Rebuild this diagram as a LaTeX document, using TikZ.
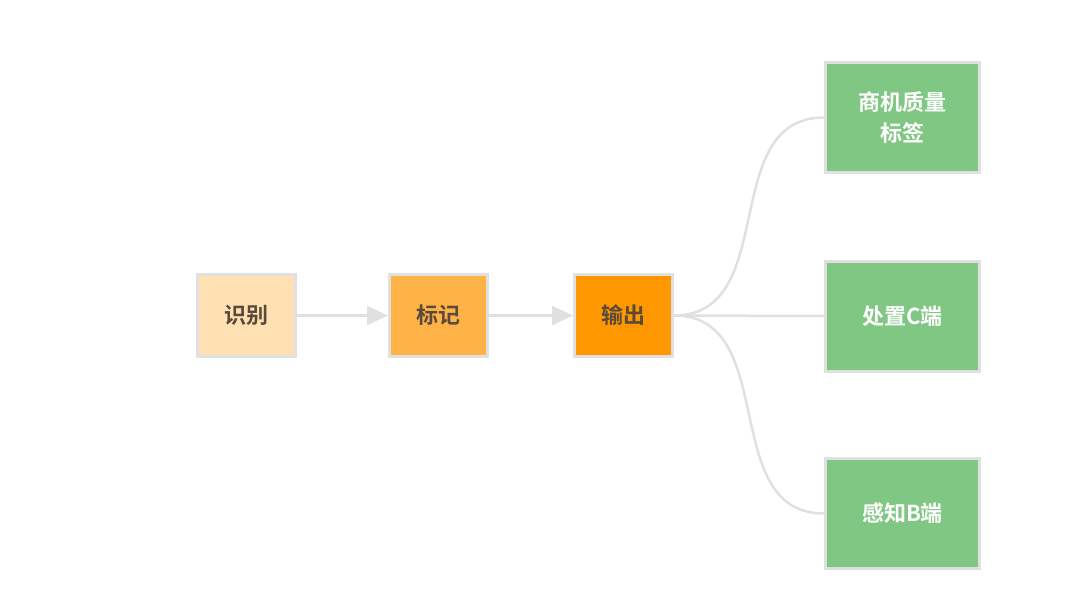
\documentclass[tikz,border=0pt]{standalone}
\usepackage{fontspec}
\setmainfont{Noto Sans CJK SC}[BoldFont={Noto Sans CJK SC Bold}]
\usepackage{tikz}
\usetikzlibrary{arrows.meta}

\definecolor{edgegray}{HTML}{E0E0E0}
\definecolor{textgray}{HTML}{5A4A3A}
\definecolor{peach}{HTML}{FFE0B2}
\definecolor{lightorange}{HTML}{FFB347}
\definecolor{deeporange}{HTML}{FF9800}
\definecolor{leafgreen}{HTML}{81C784}

\tikzset{
    stepbox/.style={draw=edgegray, line width=3pt, rectangle, minimum width=98pt, minimum height=82pt, inner sep=0pt, text=textgray, font=\fontsize{22}{26}\selectfont\bfseries},
    leafbox/.style={draw=edgegray, line width=3pt, rectangle, minimum width=154pt, minimum height=110pt, inner sep=0pt, fill=leafgreen, text=white, align=center, font=\fontsize{22}{31}\selectfont\bfseries},
    link/.style={draw=edgegray, line width=2.5pt},
}

\begin{document}
\begin{tikzpicture}[x=1pt, y=-1pt]
    \useasboundingbox (0, 0) rectangle (1080, 591);

    \node[stepbox, fill=peach] at (246.5, 315.5) (find) {识别};
    \node[stepbox, fill=lightorange] at (438.5, 315.5) (mark) {标记};
    \node[stepbox, fill=deeporange] at (623.5, 315.5) (out) {输出};

    \node[leafbox] at (902.5, 117.5) (quality) {商机质量\\标签};
    \node[leafbox] at (902.5, 316) (cside) {处置C端};
    \node[leafbox] at (902.5, 513.5) (bside) {感知B端};

    \draw[link, -{Triangle[length=21pt, width=19pt]}] (find) -- (mark);
    \draw[link, -{Triangle[length=21pt, width=19pt]}] (mark) -- (out);
    \draw[link] (out.east) to[out=0, in=180, looseness=1.1] (quality.west);
    \draw[link] (out.east) -- (cside.west);
    \draw[link] (out.east) to[out=0, in=180, looseness=1.1] (bside.west);
\end{tikzpicture}
\end{document}
